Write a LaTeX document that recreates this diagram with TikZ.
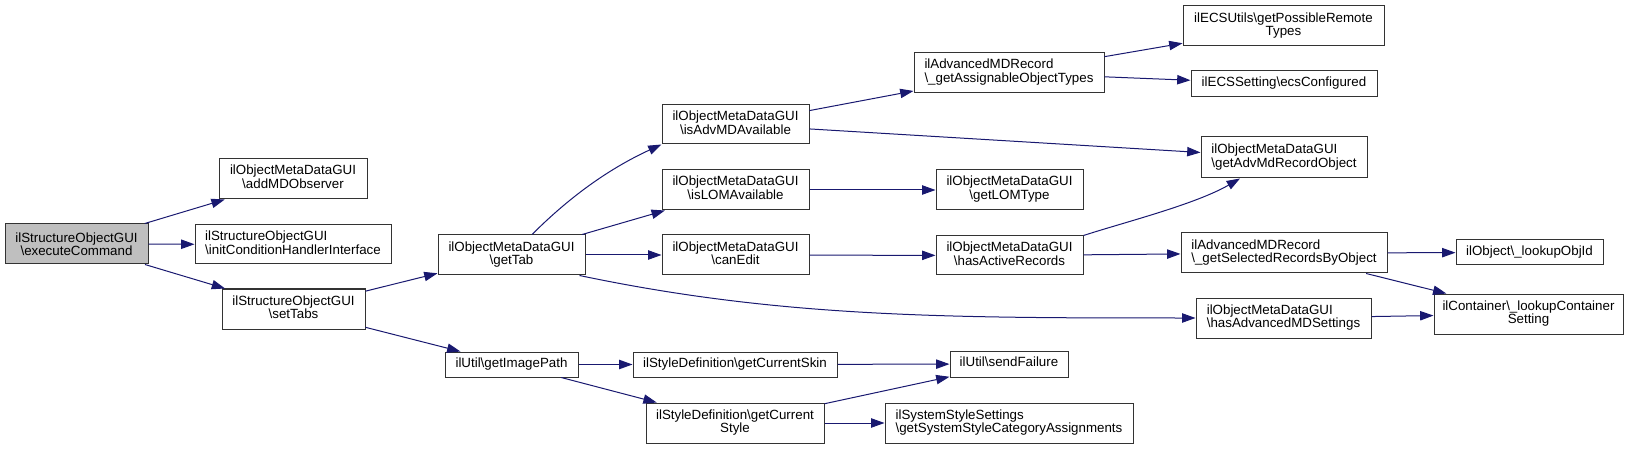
\documentclass[tikz,border=0pt]{standalone}
\usepackage{fontspec}
\setmainfont{Liberation Sans}
\usetikzlibrary{arrows.meta}
\definecolor{midnight}{HTML}{191970}
\definecolor{rootgray}{HTML}{BFBFBF}
\newcommand{\bks}{\textbackslash}
\tikzstyle{fn}=[draw=black!80,fill=white,line width=0.75pt,inner sep=0pt,font=\fontsize{10pt}{10pt}\selectfont]
\tikzstyle{root fn}=[fn,fill=rootgray]
\tikzstyle{call}=[draw,midnight,line width=0.75pt,-{Triangle[length=10pt,width=7pt]}]

\begin{document}
\begin{tikzpicture}[x=0.75pt,y=-0.75pt]
\useasboundingbox (0,0) rectangle (1629,449);

% the documented function
\node[root fn,align=center,minimum width=107.25pt,minimum height=30pt] (exec) at (76.5,244) {ilStructureObjectGUI\\\bks executeCommand};

% callees, centred labels
\foreach \pos/\name/\w/\h/\txt in {{(293,179)/addmd/148/40/ilObjectMetaDataGUI\\\bks addMDObserver},
    {(293.5,309)/settabs/143/40/ilStructureObjectGUI\\\bks setTabs},
    {(511.5,255)/gettab/147/40/ilObjectMetaDataGUI\\\bks getTab},
    {(511.5,364.5)/imgpath/133/25/ilUtil\bks getImagePath},
    {(735.5,124.5)/isadv/147/39/ilObjectMetaDataGUI\\\bks isAdvMDAvailable},
    {(735.5,190)/islom/147/40/ilObjectMetaDataGUI\\\bks isLOMAvailable},
    {(735.5,255)/canedit/147/40/ilObjectMetaDataGUI\\\bks canEdit},
    {(735,364.5)/skin/204/25/ilStyleDefinition\bks getCurrentSkin},
    {(735,423)/style/178/40/ilStyleDefinition\bks getCurrent\\Style},
    {(1009.5,190)/lomtype/147/40/ilObjectMetaDataGUI\\\bks getLOMType},
    {(1009.5,255.5)/active/147/39/ilObjectMetaDataGUI\\\bks hasActiveRecords},
    {(1009,364)/sendfail/118/26/ilUtil\bks sendFailure},
    {(1283.5,26)/ecsutils/201/40/ilECSUtils\bks getPossibleRemote\\Types},
    {(1284,84)/ecsconf/186/26/ilECSSetting\bks ecsConfigured},
    {(1529.5,252.5)/lookobj/147/25/ilObject\bks\_lookupObjId},
    {(1528.5,314)/lookcont/189/40/ilContainer\bks\_lookupContainer\\Setting}}
  \node[fn,minimum width=\w*0.75pt,minimum height=\h*0.75pt] (\name) at \pos {\begin{tabular}{@{}c@{}}\txt\end{tabular}};

% callees, left aligned labels
\foreach \pos/\name/\w/\h/\txt in {{(293,244.5)/initcond/196/39/ilStructureObjectGUI\\\bks initConditionHandlerInterface},
    {(1009,73)/assign/190/40/ilAdvancedMDRecord\\\bks\_getAssignableObjectTypes},
    {(1009,423)/sysstyle/248/40/ilSystemStyleSettings\\\bks getSystemStyleCategoryAssignments},
    {(1284,157.5)/advmdobj/166/41/ilObjectMetaDataGUI\\\bks getAdvMdRecordObject},
    {(1284,253)/selrec/206/40/ilAdvancedMDRecord\\\bks\_getSelectedRecordsByObject},
    {(1283.5,318)/hasadvmd/175/40/ilObjectMetaDataGUI\\\bks hasAdvancedMDSettings}}
  \node[fn,minimum width=\w*0.75pt,minimum height=\h*0.75pt] (\name) at \pos {\begin{tabular}{@{}l@{}}\txt\end{tabular}};

% straight calls
\foreach \source/\dest in {exec/addmd, exec/initcond, exec/settabs, settabs/gettab, settabs/imgpath,
    gettab/islom, gettab/canedit, isadv/assign, isadv/advmdobj, islom/lomtype, canedit/active,
    assign/ecsutils, assign/ecsconf, active/selrec, selrec/lookobj, selrec/lookcont, hasadvmd/lookcont,
    imgpath/skin, imgpath/style, skin/sendfail, style/sendfail, style/sysstyle}
  \path[call] (\source) -- (\dest);

% bent calls
\path[call] ([xshift=15.4pt]gettab.north) .. controls +(40,-40) and +(-50,23) .. (isadv.south west);
\path[call] ([xshift=-4.5pt]gettab.south east) .. controls +(200,42) and +(-250,0) .. (hasadvmd.west);
\path[call] (active.north east) .. controls +(40,-13) and +(-45,26) .. ([xshift=-33pt]advmdobj.south);
\end{tikzpicture}
\end{document}
